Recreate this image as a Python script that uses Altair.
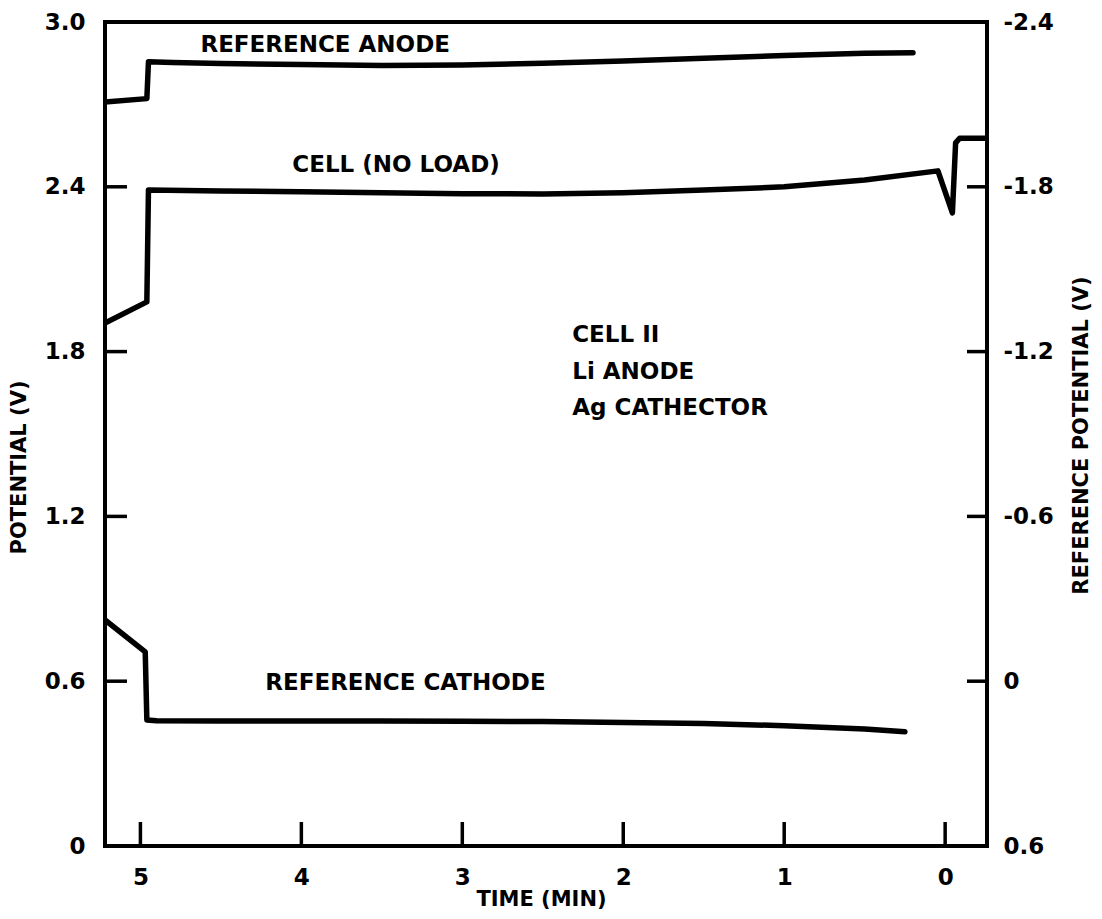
import altair as alt
import pandas as pd

# ---- data ----
time_ticks = [5, 4, 3, 2, 1, 0]
left_ticks = [0, 0.6, 1.2, 1.8, 2.4, 3.0]
right_ticks = [0.6, 0, -0.6, -1.2, -1.8, -2.4]

anode_t = [5.22, 4.96, 4.95, 4.8, 4.5, 4.0, 3.5, 3.0, 2.5, 2.0, 1.5, 1.0, 0.5, 0.2]
anode_v = [2.709, 2.721, 2.855, 2.853, 2.849, 2.845, 2.842, 2.843, 2.850, 2.858, 2.868, 2.878, 2.886, 2.888]

cell_t = [5.22, 4.96, 4.95, 4.5, 4.0, 3.5, 3.0, 2.5, 2.0, 1.5, 1.0, 0.5, 0.045, -0.045, -0.065, -0.09, -0.26]
cell_v = [1.904, 1.981, 2.388, 2.385, 2.382, 2.378, 2.375, 2.374, 2.378, 2.388, 2.400, 2.425, 2.458, 2.305, 2.560, 2.577, 2.577]

cath_t = [5.22, 4.97, 4.96, 4.9, 4.5, 4.0, 3.5, 3.0, 2.5, 2.0, 1.5, 1.0, 0.5, 0.25]
cath_v = [0.823, 0.707, 0.459, 0.456, 0.455, 0.455, 0.455, 0.454, 0.453, 0.450, 0.446, 0.438, 0.426, 0.416]

label_text = ["REFERENCE ANODE", "CELL (NO LOAD)", "REFERENCE CATHODE", "CELL II", "Li ANODE", "Ag CATHECTOR"]
label_t = [4.627, 4.056, 4.224, 2.317, 2.317, 2.317]
label_v = [2.916, 2.479, 0.593, 1.860, 1.726, 1.594]

# ---- tables ----
rows = []
for name, ts, vs in [("anode", anode_t, anode_v), ("cell", cell_t, cell_v), ("cathode", cath_t, cath_v)]:
    for i, (t, v) in enumerate(zip(ts, vs)):
        rows.append({"series": name, "t": t, "v": v, "i": i})
lines_df = pd.DataFrame(rows)
text_df = pd.DataFrame({"label": label_text, "t": label_t, "v": label_v})
left_tick_df = pd.DataFrame({"v": left_ticks[1:-1]})
time_tick_df = pd.DataFrame({"t": time_ticks})
right_tick_df = pd.DataFrame({"r": right_ticks})

FONT = "DejaVu Sans"
FS = 23
W, H = 882, 824
xscale = alt.Scale(domain=[5.22, -0.26], nice=False, zero=False)
yscale = alt.Scale(domain=[0, 3.0], nice=False, zero=False)
rscale = alt.Scale(domain=[0.6, -2.4], nice=False, zero=False)

common = dict(ticks=False, domain=False, grid=False, labelFont=FONT, labelFontSize=FS,
              labelFontWeight="bold", labelColor="black", titleFont=FONT, titleFontWeight="bold",
              titleColor="black", titleFontSize=21)

x_axis = alt.Axis(values=time_ticks, labelPadding=20, title="TIME (MIN)",
                  titleX=436, titleY=53, titleAlign="center", titleBaseline="middle", **common)
left_axis = alt.Axis(values=left_ticks, labelPadding=20, orient="left",
                     labelExpr="datum.value == 0 ? '0' : format(datum.value, '.1f')",
                     title="POTENTIAL (V)", titleAngle=270, titleX=-86, titleY=445,
                     titleAlign="center", titleBaseline="middle", **common)
right_axis = alt.Axis(values=right_ticks, labelPadding=16, orient="right",
                      labelExpr="datum.value == 0 ? '0' : (datum.value < 0 ? '-' + format(-datum.value, '.1f') : format(datum.value, '.1f'))",
                      title="REFERENCE POTENTIAL (V)", titleAngle=270, titleX=94, titleY=413,
                      titleAlign="center", titleBaseline="middle", **common)

X = alt.X("t:Q", scale=xscale, axis=x_axis)
Y = alt.Y("v:Q", scale=yscale, axis=left_axis)

lines = alt.Chart(lines_df).mark_line(
    color="black", strokeWidth=5.5, strokeCap="round", strokeJoin="round", clip=True
).encode(x=X, y=Y, detail="series:N", order="i:Q")

lticks = alt.Chart(left_tick_df).mark_rule(color="black", strokeWidth=3.5).encode(
    x=alt.value(0), x2=alt.value(22), y=Y,
)

bticks = alt.Chart(time_tick_df).mark_rule(color="black", strokeWidth=3.5).encode(
    x=X, y=alt.value(H), y2=alt.value(H - 24),
)

texts = alt.Chart(text_df).mark_text(
    align="left", baseline="middle", font=FONT, fontSize=FS, fontWeight="bold", color="black"
).encode(x=X, y=Y, text="label:N")

rticks = alt.Chart(right_tick_df).transform_filter(
    "datum.r > -2.3 && datum.r < 0.5"
).mark_rule(color="black", strokeWidth=3.5).encode(
    x=alt.value(W), x2=alt.value(W - 20),
    y=alt.Y("r:Q", scale=rscale, axis=right_axis),
)

left_group = alt.layer(lines, lticks, bticks, texts)

chart = alt.layer(left_group, rticks).resolve_scale(y="independent").properties(
    width=W, height=H,
    autosize=alt.AutoSizeParams(type="none"),
    padding={"left": 97, "top": 14, "right": 107, "bottom": 65},
    background="white",
).configure_view(stroke="black", strokeWidth=4)

chart.save("out.html", embed_options={"renderer": "svg", "actions": False})
